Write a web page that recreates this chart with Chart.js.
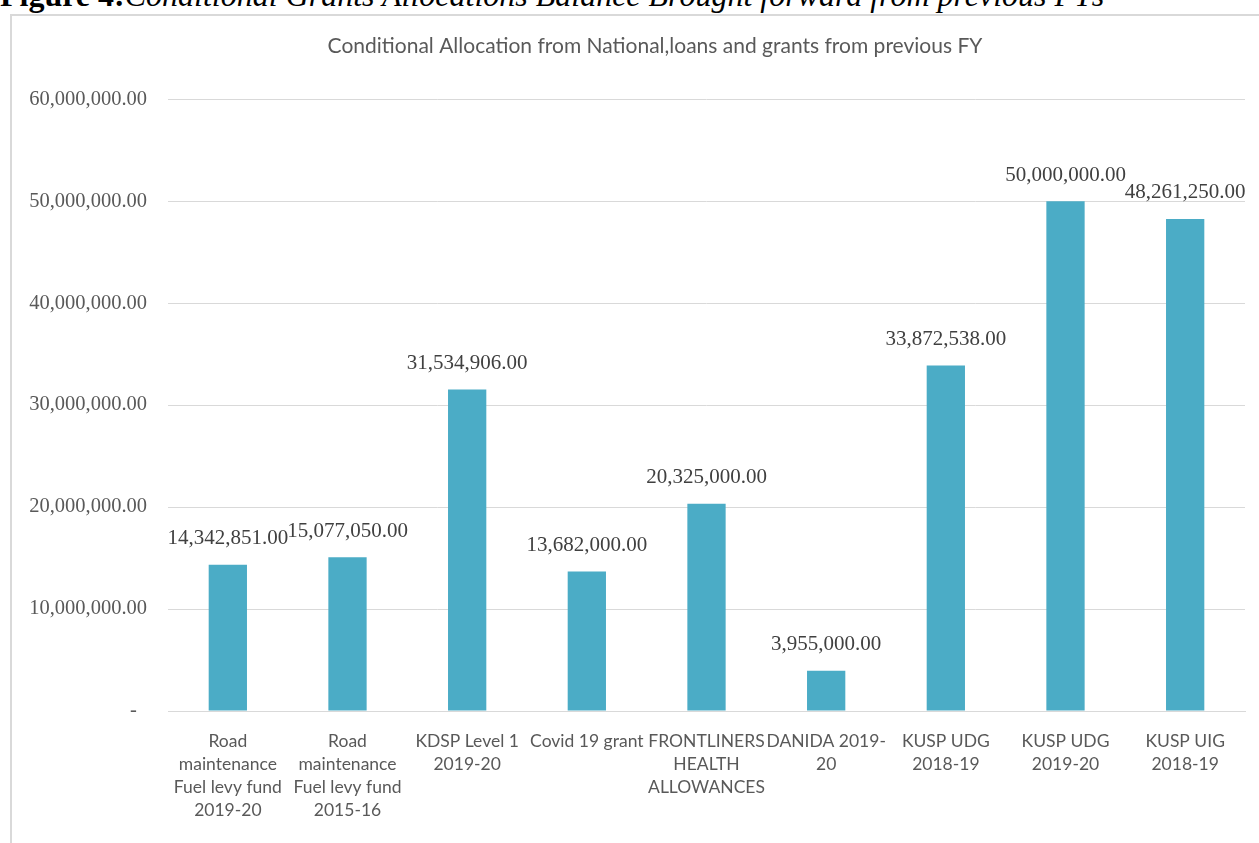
<!DOCTYPE html>
<html>
<head>
<meta charset="utf-8">
<script src="https://cdn.jsdelivr.net/npm/chart.js@4.4.1/dist/chart.umd.min.js"></script>
<style>
  html, body { margin: 0; padding: 0; background: #fff; overflow: hidden; }
  body { width: 1259px; height: 843px; position: relative; }
  #caption {
    position: absolute; left: 0; top: -21px; white-space: nowrap;
    font-family: "Liberation Serif", serif; font-size: 32px; line-height: 32px; color: #000;
  }
  #caption b { font-weight: bold; }
  #caption i { font-style: italic; }
  #frame {
    position: absolute; left: 10px; top: 14px; width: 1300px; height: 900px;
    border: 2px solid #d9d9d9; box-sizing: border-box;
  }
  #myChart { position: absolute; left: 0; top: 0; }
</style>
</head>
<body>
<div id="caption"><b>Figure 4:</b><i>Conditional Grants Allocations Balance Brought forward from previous FYs</i></div>
<div id="frame"></div>
<canvas id="myChart" width="1259" height="843"></canvas>
<script>
const chartTitle = 'Conditional Allocation from National,loans and grants from previous FY';

const categories = [
  ['Road', 'maintenance', 'Fuel levy fund', '2019-20'],
  ['Road', 'maintenance', 'Fuel levy fund', '2015-16'],
  ['KDSP Level 1', '2019-20'],
  ['Covid 19 grant'],
  ['FRONTLINERS', 'HEALTH', 'ALLOWANCES'],
  ['DANIDA 2019-', '20'],
  ['KUSP UDG', '2018-19'],
  ['KUSP UDG', '2019-20'],
  ['KUSP UIG', '2018-19']
];

const allocations = [14342851, 15077050, 31534906, 13682000, 20325000, 3955000, 33872538, 50000000, 48261250];

const yTicks = [0, 10000000, 20000000, 30000000, 40000000, 50000000, 60000000];

function money(v) {
  const parts = v.toFixed(2).split('.');
  return parts[0].replace(/\B(?=(\d{3})+(?!\d))/g, ',') + '.' + parts[1];
}

// value labels above each bar
const barValues = {
  id: 'barValues',
  afterDatasetsDraw(chart) {
    const ctx = chart.ctx;
    const meta = chart.getDatasetMeta(0);
    ctx.save();
    ctx.font = '21px "Liberation Serif"';
    ctx.fillStyle = '#404040';
    ctx.textAlign = 'center';
    ctx.textBaseline = 'middle';
    meta.data.forEach((bar, i) => {
      ctx.fillText(money(allocations[i]), bar.x, bar.y - 26);
    });
    ctx.restore();
  }
};

// the original centres its title a little right of the canvas middle
const shiftTitle = {
  id: 'shiftTitle',
  afterLayout(chart) {
    if (chart.titleBlock) chart.titleBlock.left += 53;
  }
};

const ctx = document.getElementById('myChart').getContext('2d');

new Chart(ctx, {
  type: 'bar',
  data: {
    labels: categories,
    datasets: [{
      label: 'Allocation',
      data: allocations,
      backgroundColor: '#4bacc6',
      barPercentage: 0.32,
      categoryPercentage: 1
    }]
  },
  options: {
    responsive: false,
    devicePixelRatio: 1,
    animation: false,
    layout: { padding: { left: 12, right: 14, top: 14, bottom: 0 } },
    plugins: {
      title: {
        display: true,
        text: chartTitle,
        color: '#595959',
        font: { family: 'Lato', size: 21, weight: 'normal' },
        padding: { top: 20, bottom: 40 }
      },
      legend: { display: false },
      tooltip: { enabled: false }
    },
    scales: {
      y: {
        min: 0,
        max: 60000000,
        afterBuildTicks: scale => { scale.ticks = yTicks.map(v => ({ value: v })); },
        afterFit: scale => { scale.width = 156; },
        grid: { color: '#d9d9d9', drawTicks: false },
        border: { display: false },
        ticks: {
          padding: 21,
          color: '#595959',
          font: { family: 'Liberation Serif', size: 20.5 },
          callback: v => v === 0 ? '-  ' : money(v)
        }
      },
      x: {
        afterFit: scale => { scale.height = 132; },
        grid: { display: false },
        border: { color: '#d9d9d9', width: 1 },
        ticks: {
          maxRotation: 0,
          autoSkip: false,
          padding: 11,
          color: '#595959',
          font: { family: 'Lato', size: 17.5, lineHeight: 1.31 }
        }
      }
    }
  },
  plugins: [barValues, shiftTitle]
});
</script>
</body>
</html>
